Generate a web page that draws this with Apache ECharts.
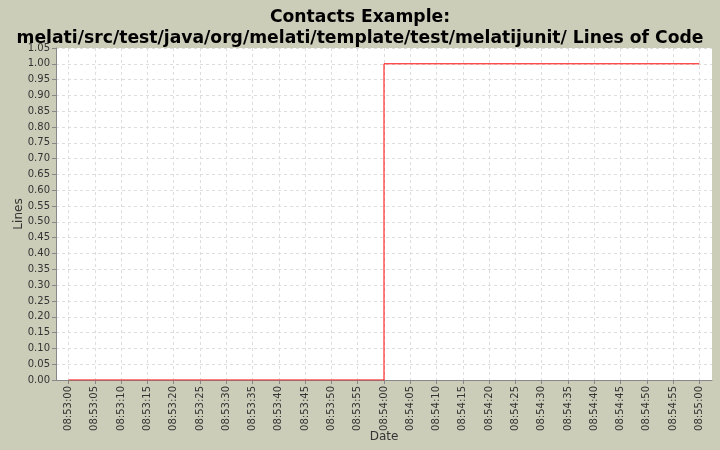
<!DOCTYPE html>
<html><head><meta charset="utf-8">
<script src="https://cdn.jsdelivr.net/npm/echarts@6/dist/echarts.min.js"></script>
<style>html,body{margin:0;padding:0;background:#cccdb9}#c{width:720px;height:450px}</style>
</head><body><div id="c"></div>
<script>
const baseTime = '08:53:00';
const xSeconds = [0, 60, 120];
const linesValues = [0, 1, 1];
const tickSeconds = [];
for (let s = 0; s <= 120; s += 5) tickSeconds.push(s);
function fmt(s){const m=53+Math.floor(s/60), ss=s%60;return '08:'+String(m).padStart(2,'0')+':'+String(ss).padStart(2,'0');}
const chart = echarts.init(document.getElementById('c'));
chart.setOption({
  backgroundColor:'#cccdb9',
  animation:false,
  title:{text:'Contacts Example:\nmelati/src/test/java/org/melati/template/test/melatijunit/ Lines of Code',left:'center',top:2,
    textStyle:{fontFamily:'DejaVu Sans',fontWeight:'bold',fontSize:17.2,color:'#000',lineHeight:21}},
  grid:{left:56,right:8,top:48,bottom:70,show:true,backgroundColor:'#fff',borderWidth:0,containLabel:false,outerBoundsMode:'none'},
  xAxis:{type:'value',min:-2.4,max:122.4,name:'Date',nameLocation:'middle',nameGap:51,nameMoveOverlap:false,
    nameTextStyle:{fontFamily:'DejaVu Sans',fontSize:12,color:'#333'},
    axisLine:{onZero:false,lineStyle:{color:'#888'}},
    axisTick:{customValues:tickSeconds,length:4,lineStyle:{color:'#888'}},
    axisLabel:{customValues:tickSeconds,rotate:90,formatter:v=>fmt(Math.round(v)),fontFamily:'DejaVu Sans',fontSize:10,color:'#333',margin:6},
    splitLine:{show:true,lineStyle:{color:'#ddd',type:[3,3]}}},
  yAxis:{type:'value',min:0,max:1.05,interval:0.05,name:'Lines',nameLocation:'middle',nameGap:31,nameMoveOverlap:false,
    nameTextStyle:{fontFamily:'DejaVu Sans',fontSize:12,color:'#333'},
    axisLine:{show:true,onZero:false,lineStyle:{color:'#888'}},
    axisTick:{show:true,length:4,lineStyle:{color:'#888'}},
    axisLabel:{formatter:v=>v.toFixed(2),fontFamily:'DejaVu Sans',fontSize:10,color:'#333',margin:6},
    splitLine:{show:true,lineStyle:{color:'#ddd',type:[3,3]}}},
  series:[{type:'line',step:'end',symbol:'none',data:xSeconds.map((x,i)=>[x,linesValues[i]]),
    lineStyle:{color:'#ff0000',width:1},itemStyle:{color:'#ff0000'}}]
});
</script></body></html>
